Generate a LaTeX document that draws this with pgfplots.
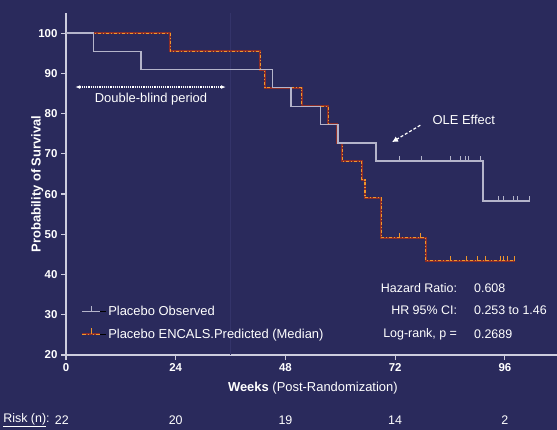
\documentclass[border=0pt]{standalone}
\usepackage{fontspec}
\setmainfont{Liberation Sans}
\usepackage{pgfplots}
\pgfplotsset{compat=1.18}
\usetikzlibrary{arrows.meta}
\definecolor{bg}{RGB}{42,42,92}
\definecolor{axl}{RGB}{205,205,222}
\definecolor{obs}{RGB}{180,180,202}
\definecolor{orng}{RGB}{238,150,45}
\definecolor{dred}{RGB}{140,45,40}
\definecolor{vline}{RGB}{52,52,106}
\pgfdeclareplotmark{cens}{\pgfpathmoveto{\pgfpoint{0pt}{0pt}}\pgfpathlineto{\pgfpoint{0pt}{5bp}}\pgfusepathqstroke}
\begin{document}
\begin{tikzpicture}
\fill[bg] (0,0) rectangle (557bp,430bp);
\useasboundingbox (0,0) rectangle (557bp,430bp);
\begin{axis}[
  at={(66bp,75bp)}, anchor=south west,
  scale only axis, width=491bp, height=342bp,
  xmin=0, xmax=107.4, ymin=20, ymax=105,
  axis lines*=left,
  xtick={0,24,48,72,96}, ytick={20,30,...,100},
  /pgf/number format/assume math mode=true,
  ticklabel style={font=\fontsize{11.5}{13}\selectfont\bfseries, text=white},
  axis line style={axl, line width=1.8bp},
  tick style={axl, line width=1.2bp},
  major tick length=5bp,
  tick align=outside,
  clip=false,
  legend style={at={(axis cs:2.6,33.2)}, anchor=north west, draw=none, fill=none,
    text=white, font=\fontsize{13}{15}\selectfont, row sep=8bp},
  legend cell align=left,
]
\addplot[vline, line width=1bp, forget plot] coordinates {(36,20) (36,105)};
\addplot[dred, line width=2bp, forget plot] coordinates {
(0,100)(22.8,100)(22.8,95.5)(42.5,95.5)(42.5,90.9)(43.5,90.9)(43.5,86.4)(51.6,86.4)(51.6,81.8)(57.4,81.8)(57.4,77.3)(59.3,77.3)(59.3,72.7)(60.4,72.7)(60.4,68.2)(64.7,68.2)(64.7,63.6)(65.4,63.6)(65.4,59.1)(69.0,59.1)(69.0,49.1)(78.7,49.1)(78.7,43.4)(98.2,43.4)};
\addplot[orng, line width=1.1bp, dash pattern=on 3bp off 2bp on 1bp off 2bp, forget plot] coordinates {
(0,100)(22.8,100)(22.8,95.5)(42.5,95.5)(42.5,90.9)(43.5,90.9)(43.5,86.4)(51.6,86.4)(51.6,81.8)(57.4,81.8)(57.4,77.3)(59.3,77.3)(59.3,72.7)(60.4,72.7)(60.4,68.2)(64.7,68.2)(64.7,63.6)(65.4,63.6)(65.4,59.1)(69.0,59.1)(69.0,49.1)(78.7,49.1)(78.7,43.4)(98.2,43.4)};
\addplot[orng, line width=1bp, only marks, mark=cens, forget plot] coordinates {
(73,49.1)(77.5,49.1)(84,43.4)(87.7,43.4)(90,43.4)(91.7,43.4)(95,43.4)(95.6,43.4)(96.5,43.4)(98,43.4)};
\addplot[obs, line width=1.3bp, forget plot] coordinates {
(0,100)(6,100)(6,95.5)(16.4,95.5)(16.4,90.9)(45.2,90.9)(45.2,86.4)(49.2,86.4)(49.2,81.8)(55.6,81.8)(55.6,77.3)(59.5,77.3)(59.5,72.7)(67.8,72.7)(67.8,68.2)(91.2,68.2)(91.2,58.3)(101.5,58.3)};
\addplot[obs, line width=1bp, only marks, mark=cens, forget plot] coordinates {
(73,68.2)(77.7,68.2)(84,68.2)(86.2,68.2)(87.3,68.2)(88,68.2)(90.6,68.2)(94.5,58.3)(95.6,58.3)(97.8,58.3)(98.7,58.3)(101.3,58.3)};
% legend-only entries
\addlegendimage{legend image code/.code={\path (0bp,0bp)--(24bp,0bp); \draw[obs,line width=1.2bp] (0bp,0bp)--(18bp,0bp); \draw[obs,line width=1bp] (9bp,0bp)--(9bp,6bp);}}
\addlegendentry{Placebo Observed}
\addlegendimage{legend image code/.code={\path (0bp,0bp)--(24bp,0bp); \draw[dred,line width=2bp] (0bp,0bp)--(18bp,0bp); \draw[orng,line width=1bp] (0bp,0bp)--(4bp,0bp) (6bp,0bp)--(7bp,0bp) (11bp,0bp)--(12bp,0bp) (14bp,0bp)--(18bp,0bp); \draw[orng,line width=1bp] (9bp,0bp)--(9bp,6bp);}}
\addlegendentry{Placebo ENCALS.Predicted (Median)}
% annotations
\draw[white, densely dotted, line width=1.2bp, {Latex[length=5bp]}-{Latex[length=5bp]}] (axis cs:2,86.6) -- (axis cs:35,86.6);
\node[text=white, font=\fontsize{13}{15}\selectfont] at (axis cs:18.6,83.7) {Double-blind period};
\node[text=white, font=\fontsize{13}{15}\selectfont] at (axis cs:87,78.4) {OLE Effect};
\draw[white, densely dashed, line width=1.2bp, -{Latex[length=6bp,width=6bp]}] (axis cs:77.5,77.1) -- (axis cs:71.3,72.9);
\begin{scope}[every node/.style={text=white, font=\fontsize{12.5}{15}\selectfont}]
\node[anchor=east] at (axis cs:86.3,36.6) {Hazard Ratio:};
\node[anchor=west] at (axis cs:88.5,36.6) {0.608};
\node[anchor=east] at (axis cs:86.3,31.2) {HR 95\% CI:};
\node[anchor=west] at (axis cs:88.5,31.2) {0.253 to 1.46};
\node[anchor=east] at (axis cs:86.3,25.2) {Log-rank, p =};
\node[anchor=west] at (axis cs:88.5,25.2) {0.2689};
\node[font=\fontsize{13}{15}\selectfont] at (axis cs:54,11.8) {\textbf{Weeks} (Post-Randomization)};
\node[anchor=east] at (axis cs:-2.8,3.85) {\underline{Risk (n)}:};
\node at (axis cs:-0.9,3.85) {22};
\node at (axis cs:24,3.85) {20};
\node at (axis cs:48,3.85) {19};
\node at (axis cs:72,3.85) {14};
\node at (axis cs:96,3.85) {2};
\node[rotate=90, font=\fontsize{13}{15}\selectfont\bfseries] at (axis cs:-6.3,62.5) {Probability of Survival};
\end{scope}
\end{axis}
\end{tikzpicture}
\end{document}
